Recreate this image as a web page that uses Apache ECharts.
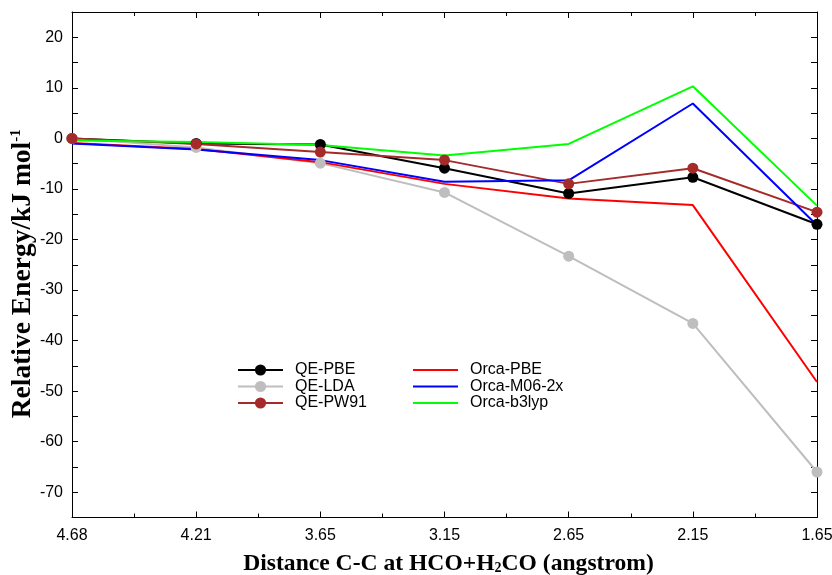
<!DOCTYPE html>
<html>
<head>
<meta charset="utf-8">
<script src="https://cdn.jsdelivr.net/npm/echarts@6/dist/echarts.min.js"></script>
<style>html,body{margin:0;padding:0;background:#fff}#c{width:832px;height:575px}</style>
</head>
<body>
<div id="c"></div>
<script>
const categories = ['4.68', '4.21', '3.65', '3.15', '2.65', '2.15', '1.65'];
const qePBE   = [0, -1.0, -1.2, -5.9, -10.9, -7.7, -17.0];
const qeLDA   = [0, -1.8, -4.9, -10.7, -23.3, -36.6, -66.0];
const qePW91  = [0, -1.1, -2.7, -4.3, -9.0, -5.9, -14.6];
const orcaPBE = [-0.9, -2.1, -4.7, -9.0, -11.9, -13.2, -48.2];
const orcaM06 = [-1.0, -2.2, -4.3, -8.6, -8.3, 6.9, -17.2];
const orcaB3  = [-0.4, -0.7, -1.3, -3.4, -1.1, 10.3, -13.3];
const yTicks = { min: -75, max: 25, step: 5 };

const chart = echarts.init(document.getElementById('c'), null, { renderer: 'canvas' });
const sans = 'Liberation Sans, Arial, sans-serif';
const serif = 'Liberation Serif, Times New Roman, serif';
const axLine = { show: true, onZero: false, lineStyle: { color: '#000', width: 1 } };
const lineIcon = 'path://M0,0 L45,0 L45,2 L0,2 Z';

function qe(name, data, color) {
  return { name, type: 'line', data, xAxisIndex: 0, yAxisIndex: 0,
    symbol: 'circle', symbolSize: 11, showSymbol: true,
    lineStyle: { color, width: 2 }, itemStyle: { color }, color, animation: false };
}
function orca(name, data, color) {
  return { name, type: 'line', data, xAxisIndex: 0, yAxisIndex: 0,
    symbol: 'none', showSymbol: false,
    lineStyle: { color, width: 2 }, itemStyle: { color }, color, animation: false };
}
const legendCommon = { orient: 'vertical', itemWidth: 45, itemHeight: 14, itemGap: 0.5,
  symbolKeepAspect: true,
  textStyle: { fontFamily: sans, fontSize: 16, color: '#000', padding: [0, 0, 0, 7] } };

chart.setOption({
  animation: false,
  grid: { left: 72, right: 15, top: 12, bottom: 57.5, containLabel: false, outerBoundsMode: 'none' },
  legend: [
    Object.assign({ left: 232, top: 357, data: ['QE-PBE', 'QE-LDA', 'QE-PW91'] }, legendCommon),
    Object.assign({ left: 408, top: 357, data: [
      { name: 'Orca-PBE', icon: lineIcon },
      { name: 'Orca-M06-2x', icon: lineIcon },
      { name: 'Orca-b3lyp', icon: lineIcon }] }, legendCommon)
  ],
  xAxis: [
    { type: 'category', data: categories, boundaryGap: false, show: false },
    { type: 'value', position: 'bottom', min: 0, max: 6, interval: 1,
      axisLine: axLine, splitLine: { show: false },
      axisTick: { show: true, inside: true, length: 6, lineStyle: { color: '#000' } },
      minorTick: { show: true, splitNumber: 2, length: 4, lineStyle: { color: '#000' } },
      axisLabel: { formatter: v => categories[v] ?? '', fontFamily: sans, fontSize: 16, color: '#000', margin: 10 },
      name: 'Distance C-C at HCO+H{sub|2}CO (angstrom)', nameLocation: 'middle', nameGap: 34,
      nameMoveOverlap: false,
      nameTextStyle: { fontFamily: serif, fontSize: 23.6, fontWeight: 'bold', color: '#000',
        padding: [0, 0, 0, 8],
        rich: { sub: { fontFamily: serif, fontSize: 14, fontWeight: 'bold', verticalAlign: 'bottom', padding: [6, 0, 0, 0] } } } },
    { type: 'value', position: 'top', min: 0, max: 6, interval: 1,
      axisLine: axLine, splitLine: { show: false }, axisLabel: { show: false },
      axisTick: { show: true, inside: true, length: 6, lineStyle: { color: '#000' } },
      minorTick: { show: true, splitNumber: 2, length: 4, lineStyle: { color: '#000' } } }
  ],
  yAxis: [
    { type: 'value', position: 'left', min: yTicks.min, max: yTicks.max, interval: yTicks.step,
      axisLine: axLine, splitLine: { show: false },
      axisTick: { show: true, inside: true, length: 6, lineStyle: { color: '#000' } },
      axisLabel: { formatter: v => (v % 10 === 0 ? String(v) : ''), fontFamily: sans, fontSize: 16, color: '#000', margin: 9 },
      name: 'Relative Energy/kJ mol{sup|-1}', nameLocation: 'middle', nameGap: 35,
      nameMoveOverlap: false,
      nameTextStyle: { fontFamily: serif, fontSize: 27.5, fontWeight: 'bold', color: '#000',
        padding: [0, 18, 0, 0],
        rich: { sup: { fontFamily: serif, fontSize: 15, fontWeight: 'bold', verticalAlign: 'top', padding: [0, 0, 9, 0] } } } },
    { type: 'value', position: 'right', min: yTicks.min, max: yTicks.max, interval: yTicks.step,
      axisLine: axLine, splitLine: { show: false }, axisLabel: { show: false },
      axisTick: { show: true, inside: true, length: 6, lineStyle: { color: '#000' } } }
  ],
  series: [
    qe('QE-PBE', qePBE, '#000000'),
    qe('QE-LDA', qeLDA, '#bebebe'),
    qe('QE-PW91', qePW91, '#a52a2a'),
    orca('Orca-PBE', orcaPBE, '#ff0000'),
    orca('Orca-M06-2x', orcaM06, '#0000ff'),
    orca('Orca-b3lyp', orcaB3, '#00ff00')
  ]
});
</script>
</body>
</html>
